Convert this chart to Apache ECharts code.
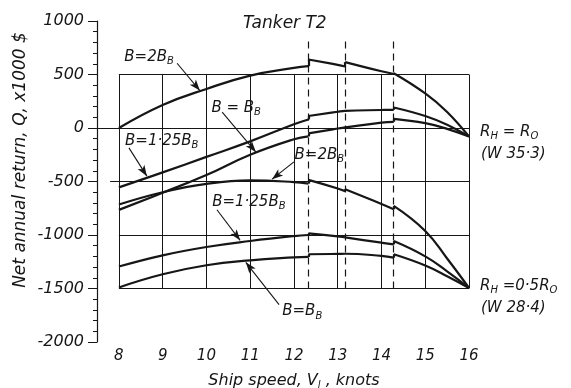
<!DOCTYPE html>
<html>
<head>
<meta charset="utf-8">
<script src="https://cdn.jsdelivr.net/npm/echarts@6/dist/echarts.min.js"></script>
<style>
  html, body { margin: 0; padding: 0; background: #fff; }
  #chart { width: 571px; height: 388px; }
</style>
</head>
<body>
<div id="chart"></div>
<script>
// knots on the speed axis
const speedTicks = [8, 9, 10, 11, 12, 13, 14, 15, 16];
// horizontal lines of the boxed grid (x1000 $)
const gridLevels = [-1500, -1000, -500, 0, 500];
// speeds where the dashed lines stand, and how high they go
const changeSpeeds = [12.33, 13.17, 14.28];
const dashTop = 820;

// R_H = R_0 (W 35.3) : [speed, Q]; a repeated speed is a step
const full2B = [[8, 0], [9, 215], [10, 365], [11, 490], [12, 562], [12.33, 578], [12.33, 640], [13, 590], [13.17, 575], [13.17, 616], [14, 530], [14.28, 505], [14.28, 512], [15, 323], [15.5, 150], [16, -80]];
const full125B = [[8, -555], [9, -415], [10, -270], [11, -125], [12, 35], [12.33, 80], [12.33, 112], [13, 152], [13.17, 160], [14, 168], [14.28, 170], [14.28, 192], [15, 112], [15.5, 30], [16, -80]];
const fullB = [[8, -765], [9, -605], [10, -440], [11, -250], [12, -105], [12.33, -78], [12.33, -50], [13, -5], [13.17, 5], [14, 50], [14.28, 58], [14.28, 85], [15, 45], [15.5, -8], [16, -80]];

// R_H = 0.5 R_0 (W 28.4)
const half2B = [[8, -715], [9, -600], [10, -522], [11, -490], [12, -505], [12.33, -520], [12.33, -485], [13, -565], [13.17, -590], [13.17, -572], [14, -710], [14.28, -760], [14.28, -728], [15, -962], [15.5, -1220], [16, -1495]];
const half125B = [[8, -1295], [9, -1190], [10, -1112], [11, -1056], [12, -1010], [12.33, -1000], [12.33, -985], [13, -1012], [13.17, -1022], [14, -1072], [14.28, -1088], [14.28, -1057], [15, -1200], [15.5, -1340], [16, -1495]];
const halfB = [[8, -1490], [9, -1367], [10, -1283], [11, -1237], [12, -1210], [12.33, -1205], [12.33, -1180], [13, -1177], [13.17, -1175], [14, -1195], [14.28, -1212], [14.28, -1180], [15, -1285], [15.5, -1385], [16, -1495]];

// curve labels [text, speed, Q] and their arrows [from, to]
const curveLabels = [
  ['B=2B{s|B}', 8.69, 662],
  ['B = B{s|B}', 10.68, 186],
  ['B=1·25B{s|B}', 8.98, -121],
  ['B=2B{s|B}', 12.58, -252],
  ['B=1·25B{s|B}', 10.97, -690],
  ['B=B{s|B}', 12.19, -1715]
];
const arrows = [
  [[9.33, 605], [9.85, 350]],
  [[10.36, 149], [11.13, -225]],
  [[8.23, -186], [8.64, -450]],
  [[12.0, -317], [11.5, -478]],
  [[10.24, -764], [10.77, -1050]],
  [[11.66, -1650], [10.9, -1255]]
];

const ink = '#161616';
const font = 'DejaVu Sans';
const rich = {
  s: { fontSize: 10, fontFamily: font, fontStyle: 'italic', fill: ink, color: ink, padding: [9, 0, 0, 0] }
};

// split a curve at its steps: smooth pieces plus the short vertical steps
function splitCurve(data) {
  const pieces = [];
  const steps = [];
  let cur = [data[0]];
  for (let i = 1; i < data.length; i++) {
    if (data[i][0] === data[i - 1][0]) {
      pieces.push(cur);
      steps.push([{ coord: data[i - 1] }, { coord: data[i] }]);
      cur = [data[i]];
    } else {
      cur.push(data[i]);
    }
  }
  pieces.push(cur);
  return { pieces, steps };
}

const curveSeries = [];
const allSteps = [];
[full2B, full125B, fullB, half2B, half125B, halfB].forEach(c => {
  const sp = splitCurve(c);
  sp.pieces.forEach(p => {
    curveSeries.push({
      type: 'line',
      data: p,
      smooth: 0.45,
      symbol: 'none',
      lineStyle: { color: ink, width: 2.2 },
      z: 5,
      silent: true
    });
  });
  allSteps.push(...sp.steps);
});

const frameLines = [];
speedTicks.forEach(x => frameLines.push([{ coord: [x, -1500] }, { coord: [x, 500] }]));
gridLevels.forEach(y => frameLines.push([{ coord: [y === -500 ? 7.8 : 8, y] }, { coord: [16, y] }]));

const dashLines = changeSpeeds.map(x => [{ coord: [x, -1500] }, { coord: [x, dashTop] }]);

const arrowLines = arrows.map(a => [
  { coord: a[0], symbol: 'none' },
  { coord: a[1], symbol: 'arrow', symbolSize: [6, 11] }
]);

function helper(lineStyle, data, extra) {
  return {
    type: 'line',
    data: [],
    silent: true,
    markLine: Object.assign({
      silent: true,
      symbol: 'none',
      label: { show: false },
      lineStyle: lineStyle,
      emphasis: { disabled: true },
      data: data
    }, extra || {})
  };
}

function textEl(text, x, y, size, align, extra) {
  return Object.assign({
    type: 'text', x: x, y: y, silent: true, z: 100,
    style: { text: text, fontFamily: font, fontStyle: 'italic', fontSize: size, fill: ink, align: align, verticalAlign: 'middle', rich: rich }
  }, extra || {});
}

const fixedTexts = [
  textEl('Net annual return, Q, x1000 $', 21, 160, 17, 'center', { rotation: Math.PI / 2 }),
  textEl('Ship speed, V{s|l} , knots', 294, 381, 16, 'center'),
  textEl('R{s|H} = R{s|O}', 480, 132, 15, 'left'),
  textEl('(W 35·3)', 481, 154, 15, 'left'),
  textEl('R{s|H} =0·5R{s|O}', 480, 286, 15, 'left'),
  textEl('(W 28·4)', 481, 308, 15, 'left')
];

const chart = echarts.init(document.getElementById('chart'));

chart.setOption({
  animation: false,
  backgroundColor: '#fff',
  grid: { left: 97, right: 102, top: 21, bottom: 46 },
  title: {
    text: 'Tanker T2',
    left: 238,
    top: 10,
    textStyle: { fontFamily: font, fontStyle: 'italic', fontWeight: 'normal', fontSize: 17, color: ink }
  },
  xAxis: {
    type: 'value',
    min: 7.5,
    max: 16,
    axisLine: { lineStyle: { color: ink, width: 1.2 } },
    axisTick: { customValues: speedTicks, length: 4, lineStyle: { color: ink } },
    axisLabel: { customValues: speedTicks, fontFamily: font, fontStyle: 'italic', fontSize: 15, color: ink, margin: 7 },
    splitLine: { show: false }
  },
  yAxis: {
    type: 'value',
    min: -2000,
    max: 1000,
    interval: 500,
    axisLine: { show: true, lineStyle: { color: ink, width: 1.2 } },
    axisTick: { show: true, length: 9, lineStyle: { color: ink } },
    minorTick: { show: true, splitNumber: 5, length: 4, lineStyle: { color: ink } },
    axisLabel: { formatter: v => String(v), fontFamily: font, fontStyle: 'italic', fontSize: 16, color: ink, margin: 13 },
    splitLine: { show: false }
  },
  series: [
    helper({ color: ink, width: 1, type: 'solid' }, frameLines),
    helper({ color: ink, width: 1.2, type: [7, 5] }, dashLines),
    helper({ color: ink, width: 1.1, type: 'solid' }, arrowLines, { symbol: ['none', 'arrow'], itemStyle: { color: ink } }),
    helper({ color: ink, width: 2.2, type: 'solid' }, allSteps),
    ...curveSeries
  ]
});

// curve names placed through the axes' own scales
const nameTexts = curveLabels.map(l => {
  const p = chart.convertToPixel({ gridIndex: 0 }, [l[1], l[2]]);
  return textEl(l[0], p[0], p[1], 15, 'center');
});

chart.setOption({ graphic: fixedTexts.concat(nameTexts) });
</script>
</body>
</html>
